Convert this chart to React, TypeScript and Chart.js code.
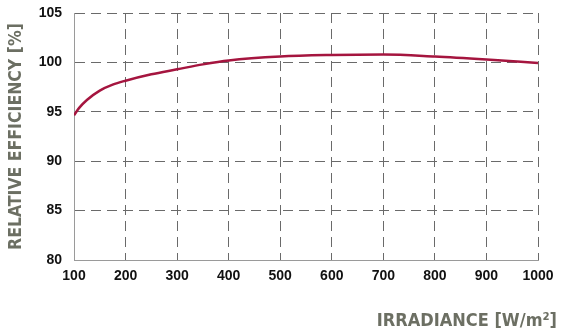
import React, { useEffect, useRef } from "react";
import { Chart, registerables } from "chart.js";
Chart.register(...registerables);

const irradiance = [100, 110, 125, 150, 175, 200, 250, 300, 350, 400, 500, 600, 700, 800, 900, 1000];
const efficiency = [94.65, 95.4, 96.2, 97.15, 97.75, 98.15, 98.8, 99.3, 99.8, 100.2, 100.6, 100.75, 100.8, 100.6, 100.3, 99.95];
const xTitle = "IRRADIANCE [W/m²]";
const yTitle = "RELATIVE EFFICIENCY [%]";

const titleColor = "#6c6f63";
const gridColor = "#6a6a6a";

export default function App() {
  const ref = useRef<HTMLCanvasElement | null>(null);
  useEffect(() => {
    if (!ref.current) return;
    const xTitlePlugin = {
      id: "xTitlePlugin",
      afterDraw(chart: any) {
        const ctx = chart.ctx;
        ctx.save();
        ctx.font = "bold 18px 'DejaVu Sans Condensed'";
        ctx.fillStyle = titleColor;
        ctx.textAlign = "right";
        ctx.textBaseline = "alphabetic";
        ctx.fillText(xTitle, 557, 326);
        ctx.restore();
      },
    };
    const chart = new Chart(ref.current, {
      type: "line",
      data: {
        datasets: [
          {
            data: irradiance.map((x, i) => ({ x, y: efficiency[i] })),
            borderColor: "#a5153f",
            borderWidth: 2.5,
            pointRadius: 0,
            cubicInterpolationMode: "monotone",
            fill: false,
          },
        ],
      },
      options: {
        animation: false,
        responsive: false,
        maintainAspectRatio: false,
        layout: { padding: { top: 0, right: 27, left: 0, bottom: 0 } },
        plugins: { legend: { display: false }, tooltip: { enabled: false } },
        scales: {
          x: {
            type: "linear",
            min: 100,
            max: 1000,
            ticks: {
              stepSize: 100,
              color: "#111",
              font: { family: "'Liberation Sans'", weight: "bold", size: 14 },
              padding: 8,
              callback: (v: any) => String(v),
            },
            grid: { color: gridColor, lineWidth: 1, drawTicks: false, tickLength: 0 },
            border: { display: true, color: "#9a9a9a", width: 1, dash: [10, 6] },
            afterFit: (s: any) => { s.width = s.width; s.height = 74; },
          },
          y: {
            min: 80,
            max: 105,
            ticks: {
              stepSize: 5,
              color: "#111",
              font: { family: "'Liberation Sans'", weight: "bold", size: 14 },
              padding: 12,
              callback: (v: any) => String(v),
            },
            grid: { color: gridColor, lineWidth: 1, drawTicks: false, tickLength: 0 },
            border: { display: true, color: "#9a9a9a", width: 1, dash: [10, 6] },
            title: {
              display: true,
              text: yTitle,
              color: titleColor,
              font: { family: "'DejaVu Sans Condensed'", weight: "bold", size: 17.5 },
              padding: { top: 6, bottom: 0 },
            },
            afterFit: (s: any) => { s.width = 74; s.paddingTop = 13; },
          },
        },
      },
      plugins: [xTitlePlugin],
    } as any);
    return () => chart.destroy();
  }, []);
  return (
    <div style={{ position: "fixed", left: 0, top: 0, width: 565, height: 334, background: "#fff" }}>
      <canvas ref={ref} width={565} height={334} />
    </div>
  );
}
